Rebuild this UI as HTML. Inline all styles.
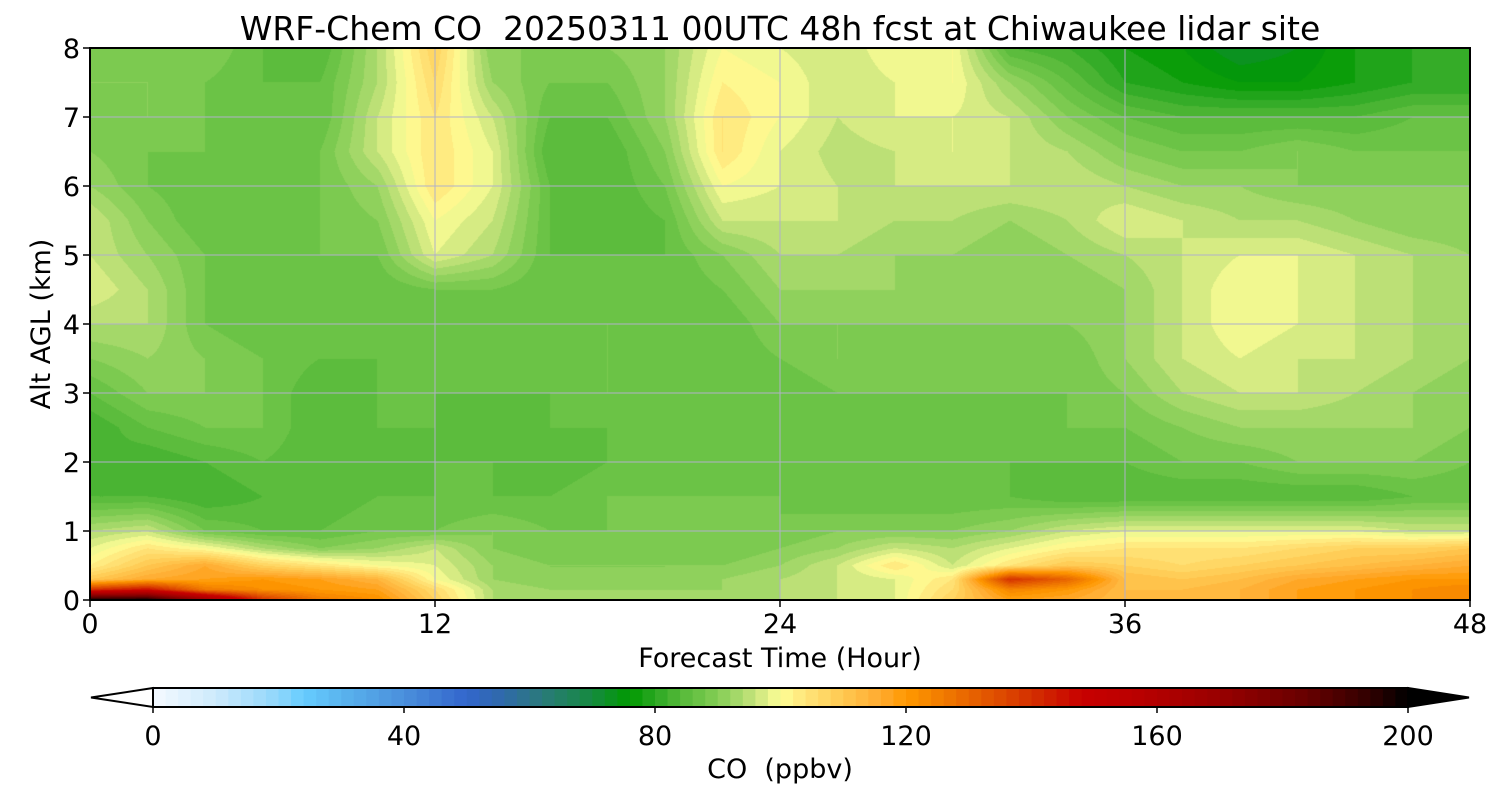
<!DOCTYPE html>
<html><head><meta charset="utf-8"><style>
body{margin:0;background:#fff;width:1500px;height:800px;overflow:hidden;font-family:"DejaVu Sans","Liberation Sans",sans-serif}
#wrap{position:relative;width:1500px;height:800px}
canvas{position:absolute;left:90px;top:48px}
svg{position:absolute;left:0;top:0}
text{white-space:pre;font-family:"DejaVu Sans","Liberation Sans",sans-serif}
</style></head><body>
<div id="wrap">
<canvas id="cv" width="1380" height="552"></canvas>
<svg id="sv" width="1500" height="800"></svg>
</div>
<script>
const times=[0,2,4,6,8,10,12,14,16,18,20,22,24,26,28,30,32,34,36,38,40,42,44,46,48];
const alts=[8,7.5,7,6.5,6,5.5,5,4.5,4,3.5,3,2.5,2,1.5,1,0.75,0.5,0.3,0.15,0];
const co_z80=[90,88,90,86,84,94,108,90,90,90,92,100,98,96,100,100,84,82,78,76,72,74,78,80,80];
const co_z75=[90,90,88,86,86,94,106,92,88,88,92,102,100,96,98,100,92,86,80,78,76,76,78,80,80];
const co_z70=[88,90,88,86,86,96,104,96,86,86,92,104,100,96,98,98,96,90,86,84,84,84,84,86,86];
const co_z65=[90,88,88,86,88,96,104,98,84,84,90,104,98,95,96,98,96,94,90,88,88,90,88,88,88];
const co_z60=[92,88,86,86,88,92,104,98,86,84,88,100,98,96,96,96,96,96,94,92,92,90,90,90,90];
const co_z55=[96,90,86,86,88,90,100,96,86,84,86,96,96,96,94,94,92,94,98,96,94,94,92,90,90];
const co_z50=[96,92,88,86,88,88,98,94,86,86,86,90,94,94,92,92,90,92,94,96,98,98,96,94,92];
const co_z45=[98,94,88,86,86,86,88,88,86,86,86,88,92,92,92,90,90,90,92,96,100,98,96,94,92];
const co_z40=[94,94,88,86,86,86,86,86,86,88,86,86,90,90,90,90,90,90,92,96,100,98,96,94,94];
const co_z35=[90,92,90,88,86,86,86,86,86,88,86,86,88,90,88,88,88,88,92,96,98,96,96,94,92];
const co_z30=[86,90,90,88,84,86,86,86,86,88,86,86,86,88,88,88,88,88,90,94,96,96,94,92,90];
const co_z25=[82,86,88,88,84,86,86,84,86,86,86,86,86,86,86,86,86,88,88,90,92,92,92,92,90];
const co_z20=[84,82,84,86,84,84,86,86,84,86,86,86,86,86,86,86,86,86,86,88,88,90,90,90,88];
const co_z15=[84,84,82,84,84,86,86,86,86,88,88,88,88,86,86,86,86,84,84,84,84,84,84,86,86];
const co_z10=[94,96,88,86,86,88,88,90,88,88,88,88,88,90,90,90,92,96,98,98,98,98,98,96,96];
const co_z075=[98,104,100,94,90,92,96,90,88,88,88,88,90,92,96,94,98,102,104,104,104,106,108,108,110];
const co_z05=[102,110,116,108,104,100,98,92,90,90,90,90,92,96,104,96,104,110,108,106,108,110,112,114,116];
const co_z03=[110,116,118,120,118,114,100,92,90,90,90,92,94,96,98,104,140,130,112,110,112,116,118,120,120];
const co_z015=[140,146,126,122,120,118,106,94,92,92,92,92,94,96,98,106,124,120,112,112,114,118,120,122,124];
const co_z00=[200,200,170,140,126,122,108,94,92,92,92,92,94,96,98,108,118,116,112,112,114,118,120,122,124];
const grid=[co_z80,co_z75,co_z70,co_z65,co_z60,co_z55,co_z50,co_z45,co_z40,co_z35,co_z30,co_z25,co_z20,co_z15,co_z10,co_z075,co_z05,co_z03,co_z015,co_z00];
const cbTicks=[0,40,80,120,160,200];
const xTicks=[0,12,24,36,48];
const yTicks=[0,1,2,3,4,5,6,7,8];

const stops=[[0,'#f5faff'],[10,'#cdeafc'],[20,'#8fd6fb'],[24,'#66ccff'],[30,'#5ab4ee'],[40,'#4a8fdc'],[50,'#3366cc'],[56,'#2f6aa8'],[62,'#2a7a7a'],[70,'#158a40'],[76,'#009900'],[80,'#2aa822'],[84,'#55b838'],[88,'#72c64a'],[92,'#98d462'],[96,'#c8e47c'],[100,'#fefe96'],[104,'#ffe57a'],[110,'#ffc850'],[116,'#ffaa30'],[120,'#ff9900'],[126,'#f07a00'],[134,'#e05000'],[142,'#d02400'],[148,'#c80000'],[156,'#bb0000'],[170,'#990000'],[184,'#660000'],[194,'#300000'],[200,'#000000']];
function hex(h){return [parseInt(h.substr(1,2),16),parseInt(h.substr(3,2),16),parseInt(h.substr(5,2),16)];}
function cmap(v){
  if(v<=stops[0][0])return hex(stops[0][1]);
  for(let i=1;i<stops.length;i++){if(v<=stops[i][0]){const a=hex(stops[i-1][1]),b=hex(stops[i][1]);const f=(v-stops[i-1][0])/(stops[i][0]-stops[i-1][0]);return [0,1,2].map(k=>Math.round(a[k]+(b[k]-a[k])*f));}}
  return [0,0,0];
}
function binColor(v){const b=Math.min(99,Math.max(0,Math.floor(v/2)));return cmap(b*2+1);}

const PX=90,PY=48,PW=1380,PH=552;
const xs=t=>PX+t/48*PW, ys=z=>PY+PH-z/8*PH;

const cv=document.getElementById('cv'),ctx=cv.getContext('2d');
const img=ctx.createImageData(PW,PH);
function findIdx(arr,v,desc){for(let i=0;i<arr.length-1;i++){const a=arr[i],b=arr[i+1];if(desc?(v<=a&&v>=b):(v>=a&&v<=b))return i;}return arr.length-2;}
const lut=[];for(let i=0;i<100;i++)lut.push(cmap(i*2+1));
for(let py=0;py<PH;py++){
  const z=(PH-py-0.5)/PH*8;const j=findIdx(alts,z,true);const fz=(alts[j]-z)/(alts[j]-alts[j+1]);
  for(let px=0;px<PW;px++){
    const t=(px+0.5)/PW*48;const i=findIdx(times,t,false);const ft=(t-times[i])/(times[i+1]-times[i]);
    const v=(grid[j][i]*(1-ft)+grid[j][i+1]*ft)*(1-fz)+(grid[j+1][i]*(1-ft)+grid[j+1][i+1]*ft)*fz;
    let c; if(v<0)c=[255,255,255]; else if(v>=200)c=[0,0,0]; else c=lut[Math.floor(v/2)];
    const o=(py*PW+px)*4;img.data[o]=c[0];img.data[o+1]=c[1];img.data[o+2]=c[2];img.data[o+3]=255;
  }
}
ctx.putImageData(img,0,0);

const sv=document.getElementById('sv');const NS='http://www.w3.org/2000/svg';
function mk(tag,at,txt){const e=document.createElementNS(NS,tag);for(const k in at)e.setAttribute(k,at[k]);if(txt!==undefined)e.textContent=txt;sv.appendChild(e);return e;}
xTicks.slice(1,-1).forEach(t=>{const l=mk('line',{x1:xs(t),x2:xs(t),y1:PY,y2:PY+PH,stroke:'#b0b0c8','stroke-width':1});

});
yTicks.slice(1,-1).forEach(z=>{const l=mk('line',{x1:PX,x2:PX+PW,y1:ys(z),y2:ys(z),stroke:'#b0b0c8','stroke-width':1});

});
const fr=mk('rect',{x:PX,y:PY,width:PW,height:PH,fill:'none',stroke:'#000','stroke-width':2});


xTicks.forEach(t=>{mk('line',{x1:xs(t),x2:xs(t),y1:PY+PH,y2:PY+PH+7,stroke:'#000','stroke-width':1.5});
const tx=mk('text',{x:xs(t),y:633,'font-size':27,'text-anchor':'middle'},String(t));

});
yTicks.forEach(z=>{mk('line',{x1:PX-7,x2:PX,y1:ys(z),y2:ys(z),stroke:'#000','stroke-width':1.5});
const tx=mk('text',{x:80,y:ys(z)+10,'font-size':27,'text-anchor':'end'},String(z));

});
const ti=mk('text',{x:780,y:40,'font-size':33,'text-anchor':'middle'},'WRF-Chem CO  20250311 00UTC 48h fcst at Chiwaukee lidar site');


const xl=mk('text',{x:780,y:667,'font-size':27,'text-anchor':'middle'},'Forecast Time (Hour)');


const yl=mk('text',{x:0,y:0,'font-size':27,'text-anchor':'middle',transform:'translate(50,324) rotate(-90)'},'Alt AGL (km)');


const CX0=153,CX1=1408,CY=688,CH=19;const cx=v=>CX0+v/200*(CX1-CX0);
for(let b=0;b<100;b++){const c=binColor(b*2);const r=mk('rect',{x:cx(b*2),y:CY,width:(CX1-CX0)/100+0.6,height:CH,fill:`rgb(${c[0]},${c[1]},${c[2]})`});

}
const ta=mk('polygon',{points:`${CX0},${CY} 91,${CY+CH/2} ${CX0},${CY+CH}`,fill:'#fff',stroke:'#000','stroke-width':2});


const tb=mk('polygon',{points:`${CX1},${CY} 1469,${CY+CH/2} ${CX1},${CY+CH}`,fill:'#000',stroke:'#000','stroke-width':2});


mk('rect',{x:CX0,y:CY,width:CX1-CX0,height:CH,fill:'none',stroke:'#000','stroke-width':2});
cbTicks.forEach(v=>{mk('line',{x1:cx(v),x2:cx(v),y1:CY+CH,y2:CY+CH+6,stroke:'#000','stroke-width':1.5});
const tx=mk('text',{x:cx(v),y:745,'font-size':27,'text-anchor':'middle'},String(v));

});
const cl=mk('text',{x:780,y:778,'font-size':27,'text-anchor':'middle'},'CO  (ppbv)');


</script>
</body></html>
